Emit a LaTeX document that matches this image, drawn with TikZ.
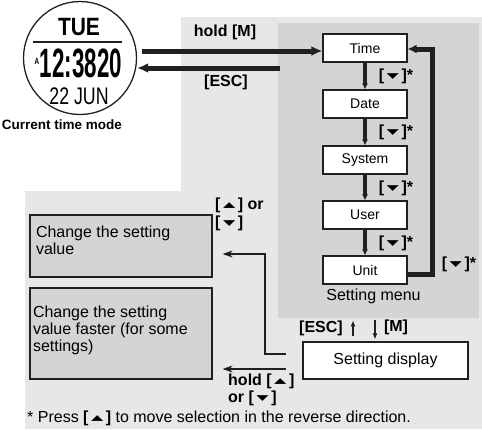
\documentclass[tikz,border=0pt]{standalone}
\usepackage{fontspec}
\usepackage{graphicx}
\setmainfont{Liberation Sans}
\newfontfamily\symf{DejaVu Sans}
\usetikzlibrary{arrows.meta}
\definecolor{lightbg}{gray}{0.905}
\definecolor{panelgray}{gray}{0.83}
\definecolor{ink}{HTML}{231F20}
\newcommand{\tridn}{\hspace{2.5pt}\raisebox{1.8pt}{\scalebox{1}[0.47]{\symf\char"25BC}}\hspace{2.5pt}}
\newcommand{\triup}{\hspace{2.5pt}\raisebox{1.8pt}{\scalebox{1}[0.47]{\symf\char"25B2}}\hspace{2.5pt}}
\newcommand{\fsz}[1]{\fontsize{#1}{#1}\selectfont}
\begin{document}
\begin{tikzpicture}[x=1pt,y=-1pt,
  menubox/.style={draw=ink, line width=1.2pt, fill=white, minimum width=84pt, minimum height=28pt, inner sep=0pt, font=\fsz{14}},
  leftbox/.style={draw=ink, line width=1.2pt, fill=panelgray, inner sep=0pt},
  lbl/.style={inner sep=0pt, font=\fsz{16}\bfseries},
  bigarr/.style={draw=ink, line width=5pt, -{Latex[length=11pt,width=10pt]}},
  stepdn/.style={draw=ink, line width=3.5pt, -{Latex[length=6pt,width=6pt]}},
  looparr/.style={draw=ink, line width=5pt, -{Latex[length=9pt,width=9pt]}},
  smallarr/.style={draw=ink, line width=2.2pt, -{Latex[length=6pt,width=5pt]}},
  thinarr/.style={draw=ink, line width=1.4pt, -{Stealth[length=10pt,width=7pt]}}
]
\useasboundingbox (0,0) rectangle (482,429);
% backgrounds
\fill[lightbg] (181,17) -- (482,17) -- (482,429) -- (25,429) -- (25,191) -- (181,191) -- cycle;
\node[fill=panelgray, minimum width=201pt, minimum height=295pt, inner sep=0pt, anchor=north west] (menu) at (278,23) {};

% watch
\node[circle, draw=ink, line width=1.3pt, minimum size=113pt, inner sep=0pt] (watch) at (80,58) {};
\node[inner sep=0pt] (tue) at (79,27) {\fsz{25}\bfseries\scalebox{0.84}[1]{TUE}};
\draw[ink, line width=2pt] (33,42) -- (122,42);
\node[inner sep=0pt] (am) at (37,61) {\fsz{9}\bfseries\scalebox{0.7}[1]{A}};
\node[inner sep=0pt] (clock) at (81,63.5) {\fsz{41}\bfseries\scalebox{0.545}[1]{12:3820}};
\node[inner sep=0pt] (wdate) at (79,96) {\fsz{24}\scalebox{0.74}[1]{22 JUN}};
\node[lbl, font=\fsz{13.5}\bfseries] (ctm) at (62,125) {Current time mode};

% menu boxes
\node[menubox] (time) at (365,48) {Time};
\node[menubox] (date) at (365,104) {Date};
\node[menubox] (system) at (365,160) {System};
\node[menubox] (user) at (365,215) {User};
\node[menubox] (unit) at (365,270) {Unit};
\foreach \a/\b in {time/date,date/system,system/user,user/unit}
  \draw[stepdn] (\a.south) -- (\b.north);
\foreach \y in {76,132,188,243}
  \node[lbl] at (396,\y) {[\tridn]*};
\draw[looparr] ([yshift=-4pt]unit.east) -- ++(25,0) |- ([yshift=-1pt]time.east);
\node[lbl] (looplbl) at (459,264) {[\tridn]*};
\node[inner sep=0pt, font=\fsz{16}] (smlabel) at (373.5,296) {Setting menu};

% watch <-> menu
\coordinate (hs) at (142,51);
\draw[bigarr] (hs) -- (hs -| time.west);
\coordinate (es) at (280,68);
\draw[bigarr] (es) -- (es -| watch.east);
\node[lbl] (holdm) at (225,32) {hold [M]};
\node[lbl] (esc1) at (226,82) {[ESC]};

% setting display
\node[draw=ink, line width=1.2pt, fill=white, minimum width=165pt, minimum height=37pt, inner sep=0pt, font=\fsz{16}] (disp) at (385.5,360.5) {Setting display};
\coordinate (upx) at (353,0);
\coordinate (dnx) at (375,0);
\draw[smallarr, shorten <=5pt, shorten >=2pt] (disp.north -| upx) -- (menu.south -| upx);
\draw[smallarr, shorten <=2pt, shorten >=2pt] (menu.south -| dnx) -- (disp.north -| dnx);
\node[lbl] (esc2) at (321,328) {[ESC]};
\node[lbl] (mlbl) at (396,327) {[M]};

% left boxes
\node[leftbox, minimum width=182pt, minimum height=62pt] (val) at (121,246)
  {\parbox[c][62pt][t]{170pt}{\fontsize{16}{17}\selectfont\rule{0pt}{22pt}Change the setting\\value}};
\node[leftbox, minimum width=182pt, minimum height=91pt] (fast) at (121,333.5)
  {\parbox[c][91pt][t]{176pt}{\fontsize{16}{17}\selectfont\rule{0pt}{29.5pt}Change the setting\\value faster (for some\\settings)}};

\coordinate (j1) at (265,254);
\draw[thinarr, shorten <=16pt, shorten >=10pt] ([yshift=6.5pt]disp.west) -| (j1) -- ([yshift=-8pt]val.east);
\coordinate (d2) at ([yshift=-8.5pt]disp.west);
\draw[thinarr, shorten <=16pt, shorten >=10pt] (d2) -- (d2 -| fast.east);

\node[lbl, align=left, anchor=west, font=\fontsize{16}{18}\selectfont\bfseries] (lab1) at (215,214) {[\triup] or\\\relax[\tridn]};
\node[lbl, align=left, anchor=west, font=\fontsize{16}{17}\selectfont\bfseries] (lab2) at (228,390) {hold [\triup]\\\relax or [\tridn]};

\node[anchor=west, inner sep=0pt, font=\fsz{16}] (note) at (27,418) {* Press \textbf{[\triup]} to move selection in the reverse direction.};
\end{tikzpicture}
\end{document}
